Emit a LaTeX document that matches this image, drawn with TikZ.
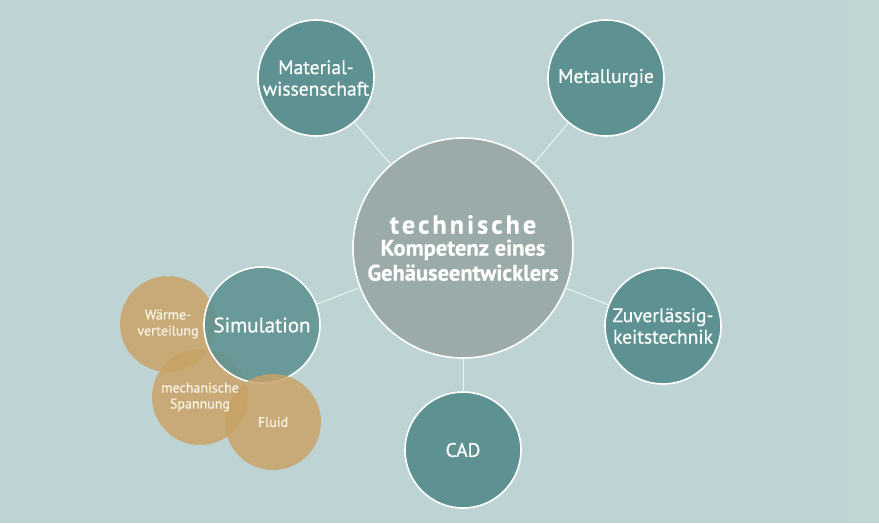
\documentclass[tikz,border=0pt]{standalone}
\usepackage{fontspec}
\setmainfont{PT Sans}[FakeBold=0.6]
\definecolor{bg}{HTML}{BED3D3}
\definecolor{teal}{HTML}{5E9292}
\definecolor{core}{HTML}{9BABAA}
\definecolor{ochre}{HTML}{C9A265}
\definecolor{linec}{HTML}{EDF3F3}
\definecolor{cream}{HTML}{FBF3E4}
\begin{document}
\begin{tikzpicture}[x=1pt,y=-1pt,
  outer/.style={circle,fill=teal,draw=white,line width=1.6pt,inner sep=0pt,minimum size=116pt,text=white,align=center,font=\fontsize{19.5}{21.5}\selectfont},
  sub/.style={circle,fill=ochre,fill opacity=0.82,inner sep=0pt,minimum size=96pt},
  subtext/.style={text=cream,align=center,font=\fontsize{14}{16}\selectfont},
  link/.style={draw=linec,line width=1pt}]
\fill[bg] (0,0) rectangle (879,523);
\fill[white,opacity=0.05] (848,0) rectangle (879,523);
\useasboundingbox (0,0) rectangle (879,523);
\node[circle,fill=core,draw=white,line width=1.6pt,inner sep=0pt,minimum size=220pt,text=white,align=center,font=\fontsize{22.5}{25}\selectfont\bfseries] (c) at (463,248)
  {{\fontsize{26}{28}\selectfont\addfontfeature{LetterSpace=12}technische}\\[-3pt]
   Kompetenz eines\\
   Gehäuseentwicklers};
\node[outer] (mw) at (316,78) {Material-\\wissenschaft};
\node[outer] (mt) at (606,78) {Metallurgie};
\node[outer] (zv) at (663,326) {Zuverlässig-\\keitstechnik};
\node[outer] (cad) at (463,450) {CAD};
\node[sub] (wv) at (168,324) {};
\node[sub] (ms) at (200,397) {};
\node[outer,fill opacity=0.88,text opacity=1,draw opacity=1,font=\fontsize{21}{22}\selectfont] (sim) at (262,325) {Simulation};
\node[sub] (fl) at (273,422) {};
\node[subtext] (wvt) at (wv) {Wärme-\\verteilung};
\node[subtext] (mst) at (ms) {mechanische\\Spannung};
\node[subtext] (flt) at (fl) {Fluid};
\draw[link] (c) -- (mw);
\draw[link] (c) -- (mt);
\draw[link] (c) -- (zv);
\draw[link] (c) -- (cad);
\draw[link] (c) -- (sim);
\end{tikzpicture}
\end{document}
